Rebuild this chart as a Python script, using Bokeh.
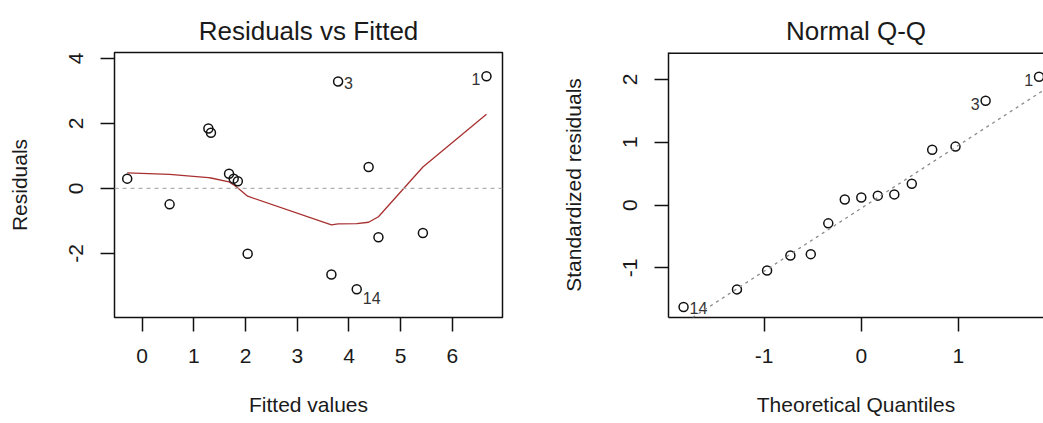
from bokeh.plotting import figure
from bokeh.layouts import row
from bokeh.models import (Range1d, FixedTicker, Slope, Span, ColumnDataSource, Title,
                          CustomJSTickFormatter)
from bokeh.core.properties import value
from bokeh.embed import file_html
from bokeh.resources import INLINE

# ---------------- data: Residuals vs Fitted ----------------
fitted = [-0.29, 0.53, 1.28, 1.33, 1.68, 1.77, 1.85, 2.04, 3.66, 3.79, 4.15, 4.38, 4.57, 5.43, 6.66]
residuals = [0.30, -0.49, 1.84, 1.71, 0.45, 0.30, 0.22, -2.01, -2.65, 3.29, -3.10, 0.66, -1.50, -1.37, 3.45]
lowess_fit = [0.48, 0.43, 0.33, 0.32, 0.20, 0.11, 0.01, -0.24, -1.12, -1.09, -1.08, -1.04, -0.87, 0.66, 2.28]
rvf_ids = ["", "", "", "", "", "", "", "", "", "3", "14", "", "", "", "1"]

# ---------------- data: Normal Q-Q ----------------
theoretical_q = [-1.83, -1.28, -0.97, -0.73, -0.52, -0.34, -0.17, 0.0, 0.17, 0.34, 0.52, 0.73, 0.97, 1.28, 1.83]
std_resid = [-1.62, -1.34, -1.04, -0.80, -0.78, -0.29, 0.09, 0.12, 0.15, 0.17, 0.34, 0.88, 0.93, 1.66, 2.04]
qq_ids = ["14", "", "", "", "", "", "", "", "", "", "", "", "", "3", "1"]
qq_line_slope = 1.0
qq_line_intercept = -0.05

rvf_xticks = [0, 1, 2, 3, 4, 5, 6]
rvf_yticks = [-2, 0, 2, 4]
qq_xticks = [-1, 0, 1]
qq_yticks = [-1, 0, 1, 2]

FONT = "Liberation Sans"
TXT = "#1a1a1a"


def style_axes(p):
    for ax in p.xaxis + p.yaxis:
        ax.formatter = CustomJSTickFormatter(code="return tick.toString();")
        ax.major_tick_out = 14
        ax.major_tick_in = 0
        ax.minor_tick_line_color = None
        ax.major_tick_line_width = 1.5
        ax.major_tick_line_color = "#111111"
        ax.axis_line_color = None
        ax.major_label_text_font = FONT
        ax.major_label_text_font_size = "21px"
        ax.major_label_text_color = TXT
        ax.axis_label_text_font = FONT
        ax.axis_label_text_font_size = "21px"
        ax.axis_label_text_font_style = "normal"
        ax.axis_label_text_color = TXT
    for ax in p.xaxis:
        ax.major_label_standoff = 17
        ax.axis_label_standoff = 27
    for ax in p.yaxis:
        ax.major_label_orientation = "vertical"
        ax.major_label_standoff = 17
        ax.axis_label_standoff = 36


def label_sources(xs, ys, ids):
    lx = [x for x, t in zip(xs, ids) if t]
    xr = (min(lx) + max(lx)) / 2.0
    right = dict(x=[], y=[], t=[])
    right_dn = dict(x=[], y=[], t=[])
    left = dict(x=[], y=[], t=[])
    for x, y, t in zip(xs, ys, ids):
        if not t:
            continue
        if x > xr:
            d = left
        elif y < 0:
            d = right_dn
        else:
            d = right
        d["x"].append(x)
        d["y"].append(y)
        d["t"].append(t)
    return right, right_dn, left


def add_labels(p, xs, ys, ids, dn):
    right, right_dn, left = label_sources(xs, ys, ids)
    common = dict(text_font=value(FONT), text_font_size="16px", text_color="#333333",
                  text_baseline="middle")
    p.text(x="x", y="y", text="t", source=ColumnDataSource(right), text_align="left",
           x_offset=6, y_offset=2, **common)
    p.text(x="x", y="y", text="t", source=ColumnDataSource(right_dn), text_align="left",
           x_offset=6, y_offset=dn, **common)
    p.text(x="x", y="y", text="t", source=ColumnDataSource(left), text_align="right",
           x_offset=-6, y_offset=3, **common)


# ---------------- left panel ----------------
p1 = figure(width=520, height=423, output_backend="svg", toolbar_location=None,
            x_range=Range1d(-0.536, 6.97), y_range=Range1d(-3.97, 4.18),
            min_border_left=114, min_border_right=18, min_border_top=52, min_border_bottom=106,
            x_axis_label="Fitted values", y_axis_label="Residuals")
p1.title = Title(text="Residuals vs Fitted", align="center", text_font=FONT,
                 text_font_size="26px", text_font_style="normal", text_color=TXT, standoff=14)
p1.grid.visible = False
p1.outline_line_color = "#111111"
p1.outline_line_width = 1.5
p1.background_fill_color = "white"
p1.border_fill_color = "white"
p1.xaxis.ticker = FixedTicker(ticks=rvf_xticks)
p1.yaxis.ticker = FixedTicker(ticks=rvf_yticks)
style_axes(p1)

p1.add_layout(Span(location=0, dimension="width", line_color="#b0b0b0", line_width=1.3,
                   line_dash="4 4"))
p1.line(fitted, lowess_fit, line_color="#a83030", line_width=1.3)
p1.scatter(fitted, residuals, marker="circle", size=9, fill_color=None,
           line_color="#111111", line_width=1.5)
add_labels(p1, fitted, residuals, rvf_ids, 9)

# ---------------- right panel ----------------
p2 = figure(width=523, height=423, output_backend="svg", toolbar_location=None,
            x_range=Range1d(-1.985, 1.876), y_range=Range1d(-1.787, 2.426),
            min_border_left=148, min_border_right=0, min_border_top=52, min_border_bottom=106,
            x_axis_label="Theoretical Quantiles", y_axis_label="Standardized residuals")
p2.title = Title(text="Normal Q-Q", align="center", text_font=FONT, offset=5,
                 text_font_size="26px", text_font_style="normal", text_color=TXT, standoff=14)
p2.grid.visible = False
p2.outline_line_color = None
p2.background_fill_color = "white"
p2.border_fill_color = "white"
p2.xaxis.ticker = FixedTicker(ticks=qq_xticks)
p2.yaxis.ticker = FixedTicker(ticks=qq_yticks)
style_axes(p2)
for ax in p2.xaxis + p2.yaxis:
    ax.axis_line_color = "#111111"
    ax.axis_line_width = 1.5

p2.add_layout(Span(location=2.426, dimension="width", line_color="#111111", line_width=3))

p2.add_layout(Slope(gradient=qq_line_slope, y_intercept=qq_line_intercept,
                    line_color="#8a8a8a", line_width=1.3, line_dash="3 4"))
p2.scatter(theoretical_q, std_resid, marker="circle", size=9, fill_color=None,
           line_color="#111111", line_width=1.5)
add_labels(p2, theoretical_q, std_resid, qq_ids, 1)

layout = row(p1, p2, spacing=0)
open("out.html", "w").write(file_html(layout, INLINE))
